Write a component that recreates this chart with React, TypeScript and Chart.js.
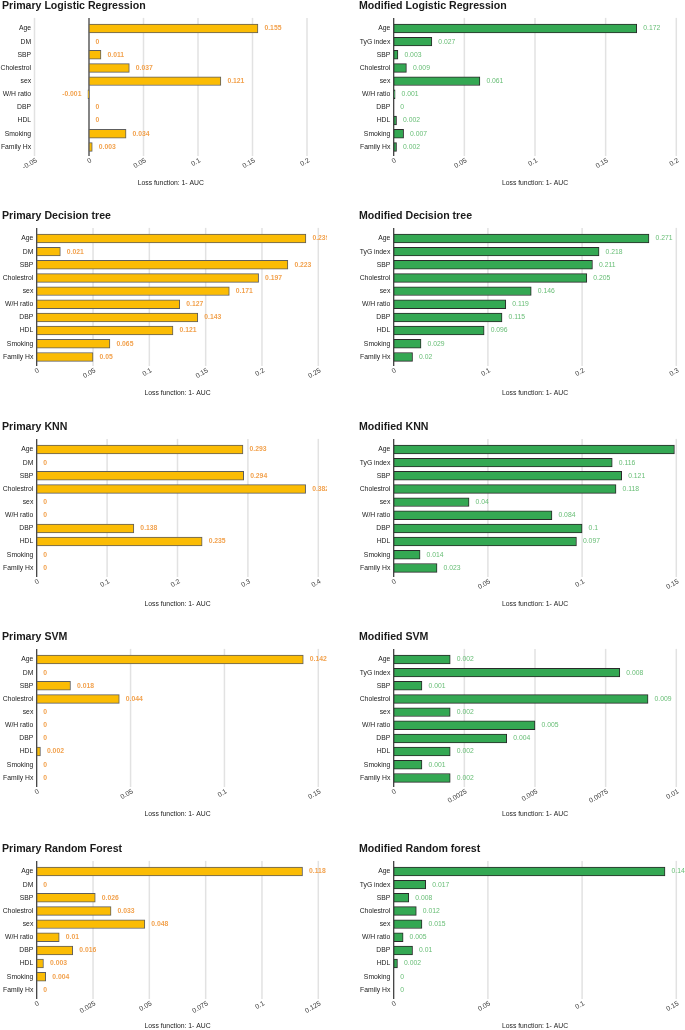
import React, { useEffect, useRef } from "react";
import { Chart, registerables } from "chart.js";

Chart.register(...registerables);

// ---------- data ----------
const primaryFeatures = ["Age", "DM", "SBP", "Cholestrol", "sex", "W/H ratio", "DBP", "HDL", "Smoking", "Family Hx"];
const modifiedFeatures = ["Age", "TyG index", "SBP", "Cholestrol", "sex", "W/H ratio", "DBP", "HDL", "Smoking", "Family Hx"];

const primaryLogisticValues = [0.155, 0, 0.011, 0.037, 0.121, -0.001, 0, 0, 0.034, 0.003];
const modifiedLogisticValues = [0.172, 0.027, 0.003, 0.009, 0.061, 0.001, 0, 0.002, 0.007, 0.002];
const primaryTreeValues = [0.239, 0.021, 0.223, 0.197, 0.171, 0.127, 0.143, 0.121, 0.065, 0.05];
const modifiedTreeValues = [0.271, 0.218, 0.211, 0.205, 0.146, 0.119, 0.115, 0.096, 0.029, 0.02];
const primaryKnnValues = [0.293, 0, 0.294, 0.382, 0, 0, 0.138, 0.235, 0, 0];
const modifiedKnnValues = [0.149, 0.116, 0.121, 0.118, 0.04, 0.084, 0.1, 0.097, 0.014, 0.023];
const primarySvmValues = [0.142, 0, 0.018, 0.044, 0, 0, 0, 0.002, 0, 0];
const modifiedSvmValues = [0.002, 0.008, 0.001, 0.009, 0.002, 0.005, 0.004, 0.002, 0.001, 0.002];
const primaryForestValues = [0.118, 0, 0.026, 0.033, 0.048, 0.01, 0.016, 0.003, 0.004, 0];
const modifiedForestValues = [0.144, 0.017, 0.008, 0.012, 0.015, 0.005, 0.01, 0.002, 0, 0];

const ticksPrimaryLogistic = [-0.05, 0, 0.05, 0.1, 0.15, 0.2];
const ticksModifiedLogistic = [0, 0.05, 0.1, 0.15, 0.2];
const ticksPrimaryTree = [0, 0.05, 0.1, 0.15, 0.2, 0.25];
const ticksModifiedTree = [0, 0.1, 0.2, 0.3];
const ticksPrimaryKnn = [0, 0.1, 0.2, 0.3, 0.4];
const ticksModifiedKnn = [0, 0.05, 0.1, 0.15];
const ticksPrimarySvm = [0, 0.05, 0.1, 0.15];
const ticksModifiedSvm = [0, 0.0025, 0.005, 0.0075, 0.01];
const ticksPrimaryForest = [0, 0.025, 0.05, 0.075, 0.1, 0.125];
const ticksModifiedForest = [0, 0.05, 0.1, 0.15];

const axisTitle = "Loss function: 1- AUC";

// ---------- styling / layout ----------
const FONT = "'Liberation Sans', Arial, Helvetica, sans-serif";
const H = 190;
const PLOT_TOP = 23.9;
const PLOT_BOTTOM = 155.5;

const STYLE = {
  primary: { fill: "#FBBC04", border: "#5e5e5e", label: "#F2A24E", labelWeight: "bold" },
  modified: { fill: "#34A853", border: "#2a2a2a", label: "#68BE76", labelWeight: "normal" },
};

type PanelCfg = {
  title: string;
  features: string[];
  values: number[];
  ticks: number[];
  variant: "primary" | "modified";
  left: number;
  top: number;
  width: number;
  plotLeft: number;
  plotRight: number;
  titleX: number;
};

const rowTops = [-2, 208, 418.5, 629, 840.5];

function primaryPanel(title: string, features: string[], values: number[], ticks: number[], row: number, plotLeft = 36.7, plotRight = 318.3): PanelCfg {
  return { title, features, values, ticks, variant: "primary", left: 0, top: rowTops[row], width: 327, plotLeft, plotRight, titleX: 2 };
}
function modifiedPanel(title: string, features: string[], values: number[], ticks: number[], row: number): PanelCfg {
  return { title, features, values, ticks, variant: "modified", left: 342, top: rowTops[row], width: 343, plotLeft: 51.7, plotRight: 334.3, titleX: 17 };
}

const panels: PanelCfg[] = [
  primaryPanel("Primary Logistic Regression", primaryFeatures, primaryLogisticValues, ticksPrimaryLogistic, 0, 34.5, 307),
  modifiedPanel("Modified Logistic Regression", modifiedFeatures, modifiedLogisticValues, ticksModifiedLogistic, 0),
  primaryPanel("Primary Decision tree", primaryFeatures, primaryTreeValues, ticksPrimaryTree, 1),
  modifiedPanel("Modified Decision tree", modifiedFeatures, modifiedTreeValues, ticksModifiedTree, 1),
  primaryPanel("Primary KNN", primaryFeatures, primaryKnnValues, ticksPrimaryKnn, 2),
  modifiedPanel("Modified KNN", modifiedFeatures, modifiedKnnValues, ticksModifiedKnn, 2),
  primaryPanel("Primary SVM", primaryFeatures, primarySvmValues, ticksPrimarySvm, 3),
  modifiedPanel("Modified SVM", modifiedFeatures, modifiedSvmValues, ticksModifiedSvm, 3),
  primaryPanel("Primary Random Forest", primaryFeatures, primaryForestValues, ticksPrimaryForest, 4),
  modifiedPanel("Modified Random forest", modifiedFeatures, modifiedForestValues, ticksModifiedForest, 4),
];

function BarPanel({ cfg }: { cfg: PanelCfg }) {
  const ref = useRef<HTMLCanvasElement>(null);

  useEffect(() => {
    const canvas = ref.current;
    if (!canvas) return;
    const st = STYLE[cfg.variant];

    const overlay = {
      id: "overlay",
      beforeDatasetsDraw(chart: any) {
        const { ctx, chartArea } = chart;
        const xs = chart.scales.x;
        ctx.save();
        ctx.lineWidth = 1.5;
        ctx.strokeStyle = "#e2e2e2";
        for (const t of cfg.ticks) {
          if (t === 0) continue;
          const x = xs.getPixelForValue(t);
          ctx.beginPath();
          ctx.moveTo(x, chartArea.top - 4);
          ctx.lineTo(x, chartArea.bottom + 2.5);
          ctx.stroke();
        }
        const x0 = xs.getPixelForValue(0);
        ctx.strokeStyle = "#333333";
        ctx.lineWidth = 1.2;
        ctx.beginPath();
        ctx.moveTo(x0, chartArea.top - 4);
        ctx.lineTo(x0, chartArea.bottom + 2.5);
        ctx.stroke();
        ctx.restore();
      },
      afterDraw(chart: any) {
        const { ctx, chartArea } = chart;
        const xs = chart.scales.x;
        const ys = chart.scales.y;
        ctx.save();
        // title
        ctx.font = `bold 10.6px ${FONT}`;
        ctx.fillStyle = "#1a1a1a";
        ctx.textAlign = "left";
        ctx.textBaseline = "alphabetic";
        ctx.fillText(cfg.title, cfg.titleX, 11);

        // category labels
        ctx.font = `6.8px ${FONT}`;
        ctx.fillStyle = "#222222";
        ctx.textAlign = "right";
        ctx.textBaseline = "middle";
        cfg.features.forEach((f, i) => {
          ctx.fillText(f, chartArea.left - 3.4, ys.getPixelForValue(i));
        });

        // value labels
        ctx.font = `${st.labelWeight} 6.8px ${FONT}`;
        ctx.fillStyle = st.label;
        cfg.values.forEach((v, i) => {
          const xe = xs.getPixelForValue(v);
          const y = ys.getPixelForValue(i);
          if (v < 0) {
            ctx.textAlign = "right";
            ctx.fillText(String(v), xe - 6.5, y);
          } else {
            const xl = xe + 6.5;
            if (xl > chartArea.right) return;
            ctx.textAlign = "left";
            ctx.fillText(String(v), xl, y);
          }
        });

        // x tick labels (slanted)
        ctx.font = `6.8px ${FONT}`;
        ctx.fillStyle = "#333333";
        ctx.textAlign = "right";
        ctx.textBaseline = "middle";
        for (const t of cfg.ticks) {
          const x = xs.getPixelForValue(t);
          ctx.save();
          ctx.translate(x + 2, 162);
          ctx.rotate((-30 * Math.PI) / 180);
          ctx.fillText(String(t), 0, 0);
          ctx.restore();
        }

        // axis title
        ctx.font = `6.8px ${FONT}`;
        ctx.fillStyle = "#222222";
        ctx.textAlign = "center";
        ctx.textBaseline = "middle";
        ctx.fillText(axisTitle, (chartArea.left + chartArea.right) / 2, 185);
        ctx.restore();
      },
    };

    const chart = new Chart(canvas, {
      type: "bar",
      data: {
        labels: cfg.features,
        datasets: [
          {
            data: cfg.values,
            backgroundColor: st.fill,
            borderColor: st.border,
            borderWidth: 1,
            borderSkipped: false,
            barThickness: 8.8,
          },
        ],
      },
      options: {
        indexAxis: "y",
        animation: false,
        responsive: false,
        devicePixelRatio: 1,
        events: [],
        layout: {
          padding: {
            left: cfg.plotLeft,
            right: cfg.width - cfg.plotRight,
            top: PLOT_TOP,
            bottom: H - PLOT_BOTTOM,
          },
        },
        plugins: {
          legend: { display: false },
          title: { display: false },
          tooltip: { enabled: false },
        },
        scales: {
          x: {
            type: "linear",
            min: cfg.ticks[0],
            max: cfg.ticks[cfg.ticks.length - 1],
            display: false,
          },
          y: {
            type: "category",
            display: false,
            offset: true,
          },
        },
      },
      plugins: [overlay],
    } as any);

    return () => chart.destroy();
  }, [cfg]);

  return (
    <canvas
      ref={ref}
      width={cfg.width}
      height={H}
      style={{ position: "absolute", left: cfg.left, top: cfg.top, width: cfg.width, height: H }}
    />
  );
}

export default function App() {
  return (
    <div
      style={{
        position: "absolute",
        left: 0,
        top: 0,
        width: 685,
        height: 1030,
        overflow: "hidden",
        background: "#ffffff",
      }}
    >
      {panels.map((p) => (
        <BarPanel key={p.title} cfg={p} />
      ))}
    </div>
  );
}
